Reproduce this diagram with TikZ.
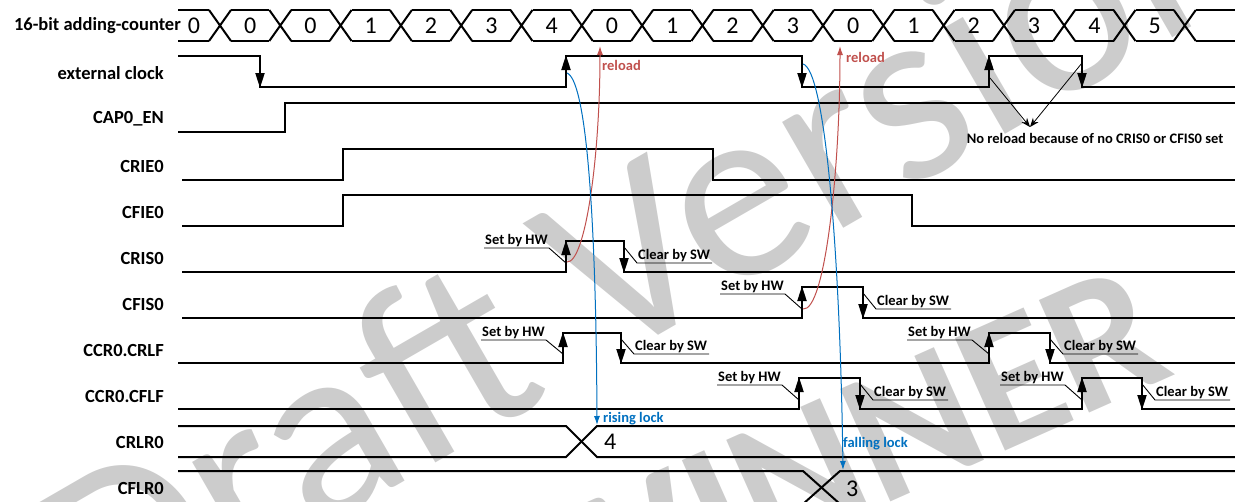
\documentclass[tikz,border=0pt]{standalone}
\usepackage{fontspec}
\setmainfont{Carlito}
\usetikzlibrary{arrows.meta,calc}

\definecolor{lockblue}{RGB}{0,112,192}
\definecolor{reloadred}{RGB}{192,80,77}
\definecolor{wmgray}{RGB}{204,204,204}

\begin{document}
\begin{tikzpicture}[x=1pt, y=-1pt, >=Stealth,
    sig/.style={line width=2pt, line join=miter},
    edgearr/.style={line width=2pt, -{Triangle[length=15pt,width=9pt]}},
    sigtext/.style={font=\fontsize{18.5pt}{20pt}\selectfont\bfseries, anchor=east, inner sep=0pt},
    val/.style={font=\fontsize{24pt}{26pt}\selectfont, inner sep=0pt},
    note/.style={font=\fontsize{14.5pt}{16pt}\selectfont\bfseries, inner sep=1pt},
    callout/.style={line width=0.9pt},
    lock/.style={lockblue, line width=1pt, -{Latex[length=9pt,width=6pt]}},
    reload/.style={reloadred, line width=1pt, -{Latex[length=9pt,width=6pt]}},
    wm/.style={wmgray, font=\fontsize{256pt}{256pt}\selectfont, inner sep=0pt}]
    \useasboundingbox (0,0) rectangle (1235,501);
    \clip (0,0) rectangle (1235,501);

    % Watermark
    \node[wm, rotate=30] (wmdraft) at (645,242) {Draft Version};
    \node[wm, font=\fontsize{190pt}{190pt}\selectfont\bfseries, rotate=24] (wmname) at (845,455) {WINNER};

    % Signal names
    \node[sigtext] (lblcnt) at (181,26) {16-bit adding-counter};
    \node[sigtext] (lblclk) at (164,73) {external clock};
    \node[sigtext] (lblcap) at (164,119) {CAP0\_EN};
    \node[sigtext] (lblcrie) at (164,166) {CRIE0};
    \node[sigtext] (lblcfie) at (164,212) {CFIE0};
    \node[sigtext] (lblcris) at (164,258) {CRIS0};
    \node[sigtext] (lblcfis) at (164,304) {CFIS0};
    \node[sigtext] (lblcrlf) at (164,350) {CCR0.CRLF};
    \node[sigtext] (lblcflf) at (164,396) {CCR0.CFLF};
    \node[sigtext] (lblcrlr) at (164,442) {CRLR0};
    \node[sigtext] (lblcflr) at (164,488) {CFLR0};

    % 16-bit adding-counter bus
    \draw[sig] (178,10) -- (209,10) (178,41) -- (209,41);
    \node[val] (cnt) at (194,26) {0};
    \foreach \k in {0,...,16} {
        \pgfmathsetmacro\xc{220+60.3*\k}
        \draw[sig] (\xc-11,10) -- (\xc+11,41) (\xc-11,41) -- (\xc+11,10);
    }
    \foreach \v [count=\k from 0] in {0,0,1,2,3,4,0,1,2,3,0,1,2,3,4,5} {
        \pgfmathsetmacro\xc{220+60.3*\k}
        \draw[sig] (\xc+11,10) -- (\xc+49.3,10) (\xc+11,41) -- (\xc+49.3,41);
        \node[val] (cnt\k) at (\xc+30.15,26) {\v};
    }
    \draw[sig] (1196,10) -- (1235,10) (1196,41) -- (1235,41);

    % Waveforms
    \draw[sig] (178,56) -- (260,56) -- (260,87) -- (566,87) -- (566,56) -- (802,56) -- (802,87)
        -- (989,87) -- (989,56) -- (1082,56) -- (1082,87) -- (1235,87);
    \draw[sig] (178,132) -- (285,132) -- (285,103) -- (1235,103);
    \draw[sig] (182,180) -- (343,180) -- (343,149) -- (713,149) -- (713,180) -- (1235,180);
    \draw[sig] (182,226) -- (343,226) -- (343,195) -- (912,195) -- (912,226) -- (1235,226);
    \draw[sig] (182,272) -- (566,272) -- (566,241) -- (624,241) -- (624,272) -- (1235,272);
    \draw[sig] (182,318) -- (802,318) -- (802,287) -- (863,287) -- (863,318) -- (1235,318);
    \draw[sig] (178,363) -- (563,363) -- (563,333) -- (621,333) -- (621,363) -- (989,363)
        -- (989,333) -- (1050,333) -- (1050,363) -- (1235,363);
    \draw[sig] (178,409) -- (799,409) -- (799,378) -- (860,378) -- (860,409) -- (1082,409)
        -- (1082,378) -- (1142,378) -- (1142,409) -- (1235,409);

    % Capture register buses
    \draw[sig] (178,426) -- (566,426) -- (597,457) -- (1235,457);
    \draw[sig] (178,457) -- (566,457) -- (597,426) -- (1235,426);
    \node[val, anchor=west] (crlrval) at (604,442) {4};
    \draw[sig] (178,471) -- (803,471) -- (840,504) -- (1235,504);
    \draw[sig] (178,504) -- (803,504) -- (840,471) -- (1235,471);
    \node[val, anchor=west] (cflrval) at (846,489) {3};

    % Edge arrows on external clock
    \draw[edgearr] (260,56) -- (260,88);
    \draw[edgearr] (566,87) -- (566,55);
    \draw[edgearr] (802,56) -- (802,88);
    \draw[edgearr] (989,87) -- (989,55);
    \draw[edgearr] (1082,56) -- (1082,88);

    % Set by HW
    \foreach \x/\yh/\yl [count=\i] in {566/241/272, 802/287/318, 563/333/363, 989/333/363, 799/378/409, 1082/378/409} {
        \draw[edgearr] (\x,\yl+1) -- (\x,\yh-1);
        \draw[callout] (\x-82,\yh+7) -- (\x-17,\yh+7) -- (\x,\yl-9);
        \node[note, anchor=south west] (set\i) at (\x-82,\yh+7) {Set by HW};
    }
    % Clear by SW
    \foreach \x/\yh/\yl [count=\i] in {624/241/272, 863/287/318, 621/333/363, 1050/333/363, 860/378/409, 1142/378/409} {
        \draw[edgearr] (\x,\yh-1) -- (\x,\yl+1);
        \draw[callout] (\x,\yh+6) -- (\x+13,\yl-9) -- (\x+88,\yl-9);
        \node[note, anchor=south west] (clr\i) at (\x+13,\yl-9) {Clear by SW};
    }

    % No reload note
    \node[note] (noreload) at (1095,138) {No reload because of no CRIS0 or CFIS0 set};
    \coordinate (nrtip) at (1030,127);
    \draw[line width=0.8pt, -{Stealth[length=9pt,width=7pt]}] (990,78) -- (nrtip);
    \draw[line width=0.8pt, -{Stealth[length=9pt,width=7pt]}] (1082,63) -- (nrtip);

    % Reload (red) and lock (blue) arrows
    \coordinate (rl1s) at (567,262);
    \coordinate (rl1e) at (600,46);
    \coordinate (rl2s) at (803,309);
    \coordinate (rl2e) at (840,46);
    \draw[reload] (rl1s) .. controls (585,263) and (600,160) .. (rl1e);
    \draw[reload] (rl2s) .. controls (825,312) and (840,170) .. (rl2e);
    \node[note, reloadred, anchor=west] (rl1) at (601,65) {reload};
    \node[note, reloadred, anchor=west] (rl2) at (845,57) {reload};

    \coordinate (lk1s) at (567,73);
    \coordinate (lk1e) at (597,425);
    \coordinate (lk2s) at (803,64);
    \coordinate (lk2e) at (843,470);
    \draw[lock] (lk1s) .. controls (585,80) and (596,200) .. (lk1e);
    \draw[lock] (lk2s) .. controls (825,70) and (840,250) .. (lk2e);
    \node[note, lockblue, anchor=west] (lk1) at (602,419) {rising lock};
    \node[note, lockblue, anchor=west] (lk2) at (842,444) {falling lock};
\end{tikzpicture}
\end{document}
